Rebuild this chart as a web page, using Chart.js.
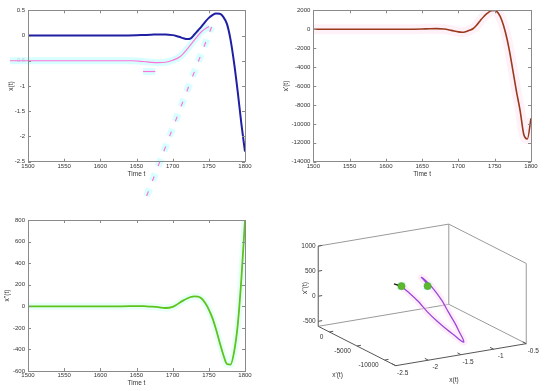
<!DOCTYPE html>
<html>
<head>
<meta charset="utf-8">
<script src="https://cdn.jsdelivr.net/npm/chart.js@4"></script>
<style>
  body { margin:0; background:#fff; }
  #wrap { position:relative; width:550px; height:391px; }
  #wrap canvas { position:absolute; }
</style>
</head>
<body>
<div id="wrap">
  <canvas id="c-x"   width="275" height="200" style="left:0;top:0"></canvas>
  <canvas id="c-dx"  width="275" height="200" style="left:275px;top:0"></canvas>
  <canvas id="c-ddx" width="275" height="196" style="left:0;top:195px"></canvas>
  <canvas id="c-3d"  width="275" height="196" style="left:275px;top:195px"></canvas>
</div>
<script>
// time axis and the three signals
const timeT  = [1500,1550,1600,1630,1650,1660,1670,1680,1690,1700,1705,1710,1715,1720,1725,1730,1735,1740,1745,1750,1755,1760,1765,1770,1775,1780,1785,1790,1795,1800];
const xVals  = [0,0,0,0,0.005,0.01,0.015,0.022,0.022,0.008,-0.008,-0.03,-0.055,-0.07,-0.055,0.02,0.1,0.18,0.27,0.35,0.405,0.435,0.43,0.37,0.23,-0.08,-0.55,-1.12,-1.75,-2.3];
const dxVals = [0,0,0,5,30,50,60,20,-120,-280,-320,-260,-120,50,420,900,1350,1700,1950,1990,1680,900,-400,-2150,-4350,-6600,-8600,-11100,-11600,-9420];
const ddxVals= [0,0,0,0,2,1,-3,-8,-16,-5,12,35,55,72,86,92,90,72,30,-30,-110,-215,-335,-450,-535,-540,-420,-170,255,800];

// magenta overlay in the x(t) panel
const guessT = [1475,1500,1550,1600,1645,1660,1670,1680,1690,1700,1710,1720,1730,1740,1750];
const guessX = [-0.5,-0.5,-0.5,-0.5,-0.5,-0.515,-0.53,-0.538,-0.53,-0.49,-0.42,-0.27,-0.09,0.08,0.18];
const tangentT = [1664,1754];
const tangentX = [-3.18,0.176];
const markT = [1659,1676];
const markX = [-0.713,-0.713];

// phase trajectory (x, x', x'')
const trajX   = [-1.394,-1.378,-1.35,-1.334,-1.33,-1.324,-1.332,-1.376,-1.432,-1.47,-1.484,-1.498,-1.514,-1.492,-1.448,-1.392,-1.324,-1.276,-1.182,-1.072,-0.994];
const trajDX  = [0,-1080,-2480,-4020,-5700,-7380,-8920,-10600,-11720,-12000,-11580,-10880,-9900,-8500,-6820,-5000,-3320,-2200,-1360,-660,0];
const trajDDX = [70,5,-101,-235,-325,-397,-432,-432,-379,-293,-189,-35,134,274,352,392,376,341,246,102,-16];
const stubX   = [-1.51,-1.394];
const stubDX  = [0,0];
const stubDDX = [142,70];

// 3d axis limits and ticks
const lim3X = [-2.5,-0.5], lim3DX = [-12000,2000], lim3DDX = [-600,1000];
const tick3X = [-2.5,-2,-1.5,-1,-0.5];
const tick3DX = [0,-5000,-10000];
const tick3DDX = [-500,0,500,1000];

const FONT = 'Liberation Sans, Arial, sans-serif';
const pts = (xs, ys) => xs.map((v,i) => ({x:v, y:ys[i]}));

// matlab-like box, inward ticks and axis titles
const panelBox = {
  id: 'panelBox',
  afterDatasetsDraw(chart, args, o) {
    if (!o || !o.on) return;
    const {ctx, chartArea:a, scales} = chart;
    ctx.save();
    ctx.strokeStyle = '#8a8a8a';
    ctx.lineWidth = 1;
    ctx.strokeRect(Math.round(a.left)+0.5, Math.round(a.top)+0.5, Math.round(a.right-a.left), Math.round(a.bottom-a.top));
    ctx.beginPath();
    scales.x.ticks.forEach(t => {
      const px = Math.round(scales.x.getPixelForValue(t.value))+0.5;
      ctx.moveTo(px, a.bottom); ctx.lineTo(px, a.bottom-3);
      ctx.moveTo(px, a.top); ctx.lineTo(px, a.top+3);
    });
    scales.y.ticks.forEach(t => {
      const py = Math.round(scales.y.getPixelForValue(t.value))+0.5;
      ctx.moveTo(a.left, py); ctx.lineTo(a.left+3, py);
      ctx.moveTo(a.right, py); ctx.lineTo(a.right-3, py);
    });
    ctx.stroke();
    ctx.fillStyle = '#333';
    ctx.font = '6.5px ' + FONT;
    ctx.textAlign = 'center';
    ctx.textBaseline = 'middle';
    ctx.fillText('Time t', (a.left+a.right)/2, a.bottom+12.5);
    ctx.translate(o.yTitleX, (a.top+a.bottom)/2);
    ctx.rotate(-Math.PI/2);
    ctx.fillText(o.yTitle, 0, 0);
    ctx.restore();
  }
};

function axes2d(ymin, ymax, ystep, yw, xh) {
  const tk = {font:{size:6, family:FONT}, color:'#333'};
  const grid = {display:false, drawTicks:false, tickLength:0};
  return {
    x: {type:'linear', min:1500, max:1800,
        ticks:Object.assign({stepSize:50, maxRotation:0, autoSkip:false, padding:1, callback:v=>String(v)}, tk),
        grid, border:{display:false},
        afterFit(s){ s.height = xh; }},
    y: {type:'linear', min:ymin, max:ymax,
        ticks:Object.assign({stepSize:ystep, autoSkip:false, padding:3, callback:v=>String(Math.round(v*10)/10)}, tk),
        grid, border:{display:false},
        afterFit(s){ s.width = yw; }}
  };
}

function line(data, color, width, extra) {
  return Object.assign({data, borderColor:color, borderWidth:width, pointRadius:0,
    cubicInterpolationMode:'monotone', fill:false}, extra || {});
}

const baseOpts = (scales, pad, title, tx) => ({
  responsive:false, animation:false, events:[],
  layout:{padding:pad},
  scales,
  plugins:{legend:{display:false}, tooltip:{enabled:false}, panelBox:{on:true, yTitle:title, yTitleX:tx}}
});

// x(t)
const haloCyan = 'rgba(205,255,255,0.8)';
new Chart(document.getElementById('c-x'), {
  type:'line',
  data:{datasets:[
    line(pts(timeT, xVals), '#1f1fa3', 2, {order:1}),
    line(pts(guessT, guessX), '#ff73d9', 1.2, {order:2, clip:false}),
    line(pts(markT, markX), '#ff73d9', 1.2, {order:2, clip:false}),
    line(pts(tangentT, tangentX), '#ff73d9', 1.2, {order:2, clip:false, borderDash:[5,11], cubicInterpolationMode:'default', tension:0}),
    line(pts(guessT, guessX), haloCyan, 7, {order:3, clip:false}),
    line(pts(markT, markX), haloCyan, 7, {order:3, clip:false}),
    line(pts(tangentT, tangentX), haloCyan, 7, {order:3, clip:false, borderDash:[8,8], tension:0})
  ]},
  options: baseOpts(axes2d(-2.5, 0.5, 0.5, 28, 38.3), {left:0, top:10.3, right:30, bottom:0}, 'x(t)', 11.7),
  plugins:[panelBox]
});

// x'(t)
new Chart(document.getElementById('c-dx'), {
  type:'line',
  data:{datasets:[
    line(pts(timeT, dxVals), '#9a3a1c', 1.6, {order:1}),
    line(pts(timeT, dxVals), 'rgba(255,215,235,0.35)', 10, {order:2})
  ]},
  options: baseOpts(axes2d(-14000, 2000, 2000, 38.3, 38.3), {left:0, top:10.3, right:19, bottom:0}, "x'(t)", 11.7),
  plugins:[panelBox]
});

// x''(t)
new Chart(document.getElementById('c-ddx'), {
  type:'line',
  data:{datasets:[
    line(pts(timeT, ddxVals), '#5cc41a', 1.8, {order:1}),
    line(pts(timeT, ddxVals), 'rgba(210,255,240,0.5)', 7, {order:2})
  ]},
  options: baseOpts(axes2d(-600, 800, 200, 28, 20), {left:0, top:25, right:30, bottom:0}, "x''(t)", 7.5),
  plugins:[panelBox]
});

// 3d view: oblique projection onto a hidden pixel-space scatter
const P0 = {x:120, y:175}, EX = {x:136, y:-23.3}, EY = {x:-80.7, y:-41.7}, EZ = {x:0, y:-85};
function proj(x, dx, ddx) {
  const u = (x-lim3X[0])/(lim3X[1]-lim3X[0]);
  const v = (dx-lim3DX[0])/(lim3DX[1]-lim3DX[0]);
  const w = (ddx-lim3DDX[0])/(lim3DDX[1]-lim3DDX[0]);
  return {x:P0.x + u*EX.x + v*EY.x + w*EZ.x, y:P0.y + u*EX.y + v*EY.y + w*EZ.y};
}
const proj3 = (xs, ds, dds) => xs.map((v,i) => proj(v, ds[i], dds[i]));
const traj = proj3(trajX, trajDX, trajDDX);
const stub = proj3(stubX, stubDX, stubDDX);
const ends = [traj[0], traj[traj.length-1]];

const box3d = {
  id:'box3d',
  beforeDatasetsDraw(chart) {
    const {ctx, scales} = chart;
    const P = (x,d,dd) => { const p = proj(x,d,dd); return [scales.x.getPixelForValue(p.x), scales.y.getPixelForValue(p.y)]; };
    const [x0,x1] = lim3X, [y0,y1] = lim3DX, [z0,z1] = lim3DDX;
    const seg = (a,b) => { ctx.moveTo(a[0],a[1]); ctx.lineTo(b[0],b[1]); };
    ctx.save();
    ctx.lineWidth = 1;
    ctx.strokeStyle = '#9a9a9a';
    ctx.beginPath();
    seg(P(x0,y1,z1), P(x1,y1,z1));
    seg(P(x1,y1,z1), P(x1,y0,z1));
    seg(P(x1,y0,z1), P(x1,y0,z0));
    seg(P(x1,y1,z0), P(x1,y1,z1));
    seg(P(x0,y1,z0), P(x1,y1,z0));
    seg(P(x1,y1,z0), P(x1,y0,z0));
    ctx.stroke();
    ctx.strokeStyle = '#555';
    ctx.beginPath();
    seg(P(x0,y1,z0), P(x0,y1,z1));
    seg(P(x0,y1,z0), P(x0,y0,z0));
    seg(P(x0,y0,z0), P(x1,y0,z0));
    // ticks
    const nEx = [EX.x/Math.hypot(EX.x,EX.y), EX.y/Math.hypot(EX.x,EX.y)];
    const nEy = [EY.x/Math.hypot(EY.x,EY.y), EY.y/Math.hypot(EY.x,EY.y)];
    tick3X.forEach(v => { const p = P(v,y0,z0); seg(p, [p[0]+nEy[0]*4, p[1]+nEy[1]*4]); });
    tick3DX.forEach(v => { const p = P(x0,v,z0); seg(p, [p[0]+nEx[0]*4, p[1]+nEx[1]*4]); });
    tick3DDX.forEach(v => { const p = P(x0,y1,v); seg(p, [p[0]+nEx[0]*4, p[1]+nEx[1]*4]); });
    ctx.stroke();
    ctx.fillStyle = '#333';
    ctx.font = '6.5px ' + FONT;
    ctx.textBaseline = 'middle';
    ctx.textAlign = 'center';
    tick3X.forEach(v => { const p = P(v,y0,z0); ctx.fillText(String(v), p[0]+7, p[1]+7.5); });
    ctx.textAlign = 'right';
    tick3DX.forEach(v => { const p = P(x0,v,z0); ctx.fillText(String(v), p[0]-6, p[1]+5); });
    tick3DDX.forEach(v => { const p = P(x0,y1,v); ctx.fillText(String(v), p[0]-2.5, p[1]); });
    ctx.textAlign = 'center';
    ctx.fillText("x'(t)", 62.5, 180);
    ctx.fillText('x(t)', 179, 185);
    ctx.translate(30, 93);
    ctx.rotate(-Math.PI/2);
    ctx.fillText("x''(t)", 0, 0);
    ctx.restore();
  }
};

new Chart(document.getElementById('c-3d'), {
  type:'scatter',
  data:{datasets:[
    {data:ends, pointStyle:'circle', pointRadius:3.6, backgroundColor:'#5cb82c', borderColor:'#4f9f26', borderWidth:0.5, showLine:false, order:1},
    {data:stub, showLine:true, borderColor:'#222', borderWidth:1.5, pointRadius:0, order:2},
    {data:traj, showLine:true, borderColor:'#9a48d8', borderWidth:1.3, pointRadius:0, tension:0.25, order:3},
    {data:ends, pointStyle:'rect', pointRadius:5.5, backgroundColor:'rgba(195,255,250,0.85)', borderWidth:0, showLine:false, order:4},
    {data:traj, showLine:true, borderColor:'rgba(255,215,245,0.45)', borderWidth:7, pointRadius:0, tension:0.25, order:5}
  ]},
  options:{
    responsive:false, animation:false, events:[],
    layout:{padding:0},
    scales:{
      x:{type:'linear', display:false, min:0, max:275},
      y:{type:'linear', display:false, min:0, max:196, reverse:true}
    },
    plugins:{legend:{display:false}, tooltip:{enabled:false}}
  },
  plugins:[box3d]
});
</script>
</body>
</html>
